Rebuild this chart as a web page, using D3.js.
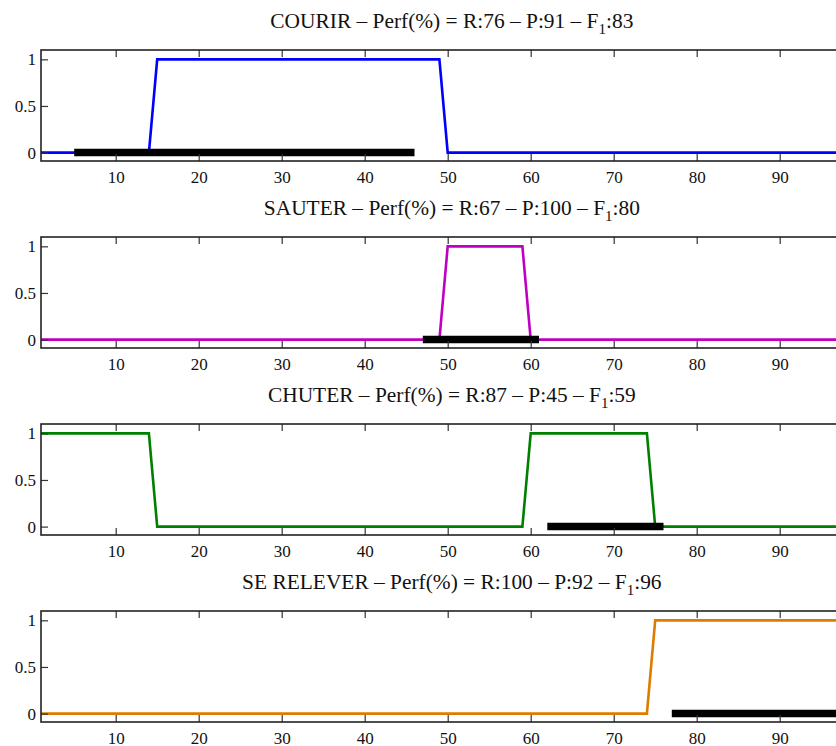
<!DOCTYPE html>
<html><head><meta charset="utf-8">
<script src="https://cdn.jsdelivr.net/npm/d3@7"></script>
<style>body{margin:0;background:#fff}svg{display:block}</style>
</head><body>
<svg id="chart" width="836" height="746"></svg>
<script>
// ---- data ----
const activities = ["COURIR", "SAUTER", "CHUTER", "SE RELEVER"];
const recall = [76, 67, 87, 100];
const precision = [91, 100, 45, 92];
const f1 = [83, 80, 59, 96];
const colors = ["#0000ff", "#c000c0", "#008000", "#de7c00"];
// detection curves (frame, value) breakpoints
const courir = [[1,0],[14,0],[15,1],[49,1],[50,0],[100,0]];
const sauter = [[1,0],[49,0],[50,1],[59,1],[60,0],[100,0]];
const chuter = [[1,1],[14,1],[15,0],[59,0],[60,1],[74,1],[75,0],[100,0]];
const relever = [[1,0],[74,0],[75,1],[100,1]];
const curves = [courir, sauter, chuter, relever];
// ground truth intervals
const truth = [[5,46],[47,61],[62,76],[77,100]];
const xTicks = [10,20,30,40,50,60,70,80,90];
const yTicks = [0, 0.5, 1];
const yTickLabels = ["0", "0.5", "1"];

// ---- layout ----
const svg = d3.select("#chart");
const left = 41, right = 862.7;
const panelTops = [50, 237, 424, 611];
const panelH = 111;
const x = d3.scaleLinear().domain([1, 100]).range([left, right]);
const font = "'Liberation Serif','Times New Roman',serif";

activities.forEach((name, i) => {
  const top = panelTops[i], bottom = top + panelH;
  const y = d3.scaleLinear().domain([-0.09, 1.1]).range([bottom, top]);
  const g = svg.append("g");

  // title
  const t = g.append("text")
    .attr("x", (left + right) / 2).attr("y", top - 22.5)
    .attr("text-anchor", "middle")
    .attr("font-family", font).attr("font-size", 21.4).attr("fill", "#111");
  t.append("tspan").text(`${name} \u2013 Perf(%) = R:${recall[i]} \u2013 P:${precision[i]} \u2013 F`);
  t.append("tspan").attr("font-size", 15).attr("dy", 6).text("1");
  t.append("tspan").attr("dy", -6).text(`:${f1[i]}`);

  // curve
  const line = d3.line().x(d => x(d[0])).y(d => y(d[1]));
  g.append("path").datum(curves[i])
    .attr("d", line).attr("fill", "none")
    .attr("stroke", colors[i]).attr("stroke-width", 2.6)
    .attr("stroke-linejoin", "miter");

  // ground truth bar
  g.append("line")
    .attr("x1", x(truth[i][0])).attr("x2", x(truth[i][1]))
    .attr("y1", y(0)).attr("y2", y(0))
    .attr("stroke", "#000").attr("stroke-width", 7.5);

  // axes (ticks inward)
  const xb = d3.axisBottom(x).tickValues(xTicks).tickSize(-7).tickPadding(10).tickFormat(d3.format("d"));
  const xt = d3.axisTop(x).tickValues(xTicks).tickSize(-7).tickFormat("");
  const yl = d3.axisLeft(y).tickValues(yTicks).tickSize(-7).tickPadding(5)
    .tickFormat((d, k) => yTickLabels[k]);
  const yr = d3.axisRight(y).tickValues(yTicks).tickSize(-7).tickFormat("");

  const ax = [
    g.append("g").attr("transform", `translate(0,${bottom})`).call(xb),
    g.append("g").attr("transform", `translate(0,${top})`).call(xt),
    g.append("g").attr("transform", `translate(${left},0)`).call(yl),
    g.append("g").attr("transform", `translate(${right},0)`).call(yr)
  ];
  ax.forEach(a => {
    a.select(".domain").remove();
    a.selectAll(".tick line").attr("stroke", "#333").attr("stroke-width", 1.2);
    a.selectAll("text").attr("font-family", font).attr("font-size", 17).attr("fill", "#111");
  });

  // frame
  g.append("rect").attr("x", left).attr("y", top)
    .attr("width", right - left).attr("height", panelH)
    .attr("fill", "none").attr("stroke", "#222").attr("stroke-width", 1.6);
});
</script>
</body></html>
